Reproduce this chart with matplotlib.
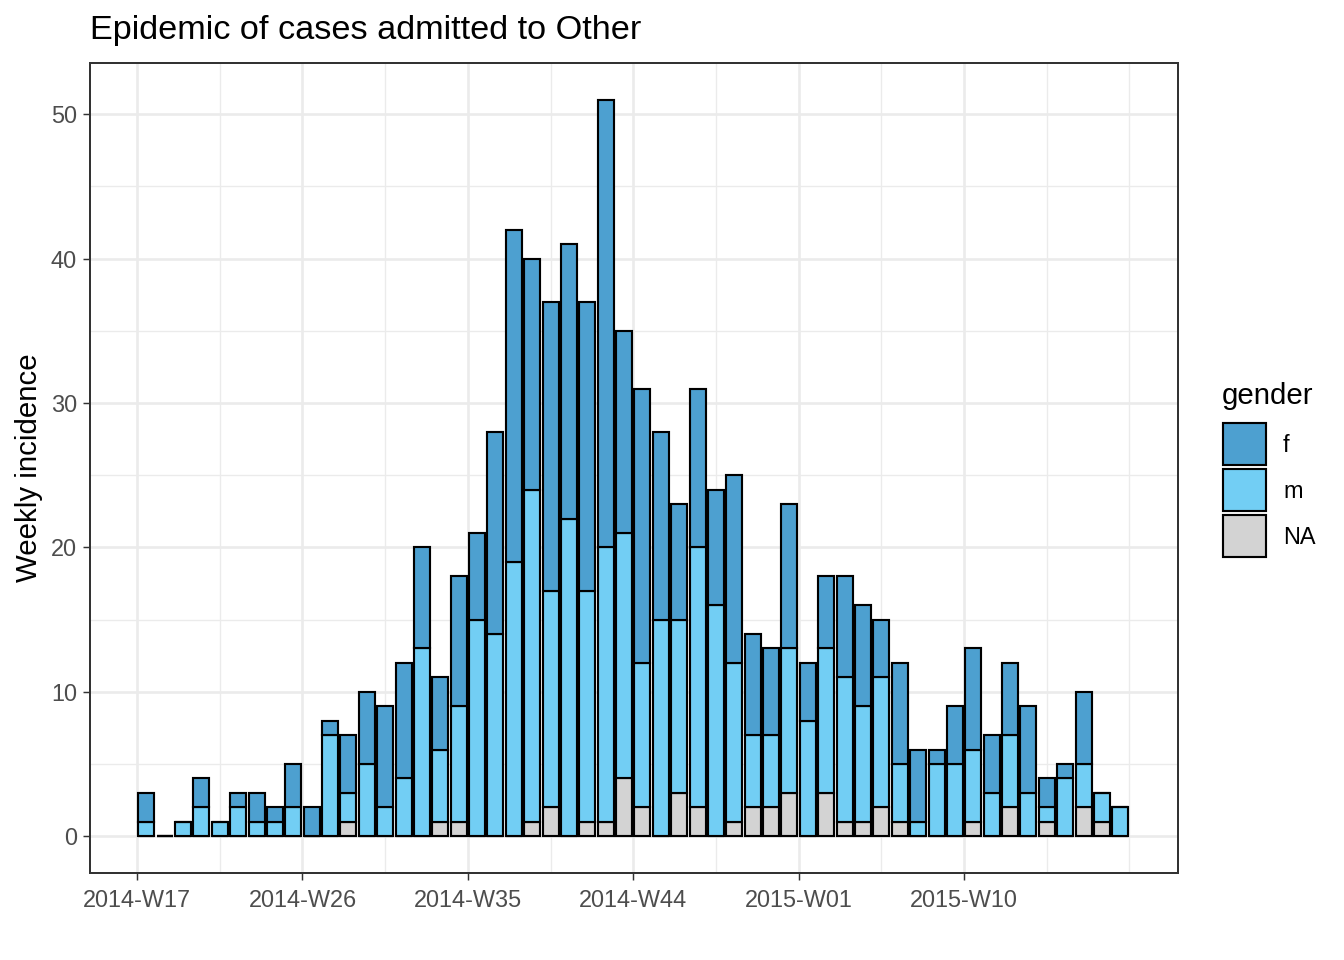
import matplotlib
matplotlib.use("Agg")
import matplotlib.pyplot as plt
from matplotlib.patches import Rectangle
import numpy as np

plt.rcParams['font.family'] = ['Liberation Sans', 'DejaVu Sans']

# weekly counts, 2014-W17 .. 2015-W18
weeks = [f"2014-W{w:02d}" for w in range(17, 53)] + [f"2015-W{w:02d}" for w in range(1, 19)]
na = [0, 0, 0, 0, 0, 0, 0, 0, 0, 0, 0, 1, 0, 0, 0, 0, 1, 1, 0, 0,
      0, 1, 2, 0, 1, 1, 4, 2, 0, 3, 2, 0, 1, 2, 2, 3, 0, 3, 1, 1,
      2, 1, 0, 0, 0, 1, 0, 2, 0, 1, 0, 2, 1, 0]
m = [1, 0, 1, 2, 1, 2, 1, 1, 2, 0, 7, 2, 5, 2, 4, 13, 5, 8, 15, 14,
     19, 23, 15, 22, 16, 19, 17, 10, 15, 12, 18, 16, 11, 5, 5, 10, 8, 10, 10, 8,
     9, 4, 1, 5, 5, 5, 3, 5, 3, 1, 4, 3, 2, 2]
f = [2, 0, 0, 2, 0, 1, 2, 1, 3, 2, 1, 4, 5, 7, 8, 7, 5, 9, 6, 14,
     23, 16, 20, 19, 20, 31, 14, 19, 13, 8, 11, 8, 13, 7, 6, 10, 4, 5, 7, 7,
     4, 7, 5, 1, 4, 7, 4, 5, 6, 2, 1, 5, 0, 0]

tick_labels = ["2014-W17", "2014-W26", "2014-W35", "2014-W44", "2015-W01", "2015-W10"]
groups = ["f", "m", "NA"]
colors = {"f": "#4DA0D0", "m": "#72CEF4", "NA": "#D3D3D3"}

W, H = 1344, 960
fig = plt.figure(figsize=(7, 5), dpi=192)
ax = fig.add_axes([90 / W, 1 - 873 / H, 1088 / W, 810 / H])

x = np.arange(len(weeks)) + 0.5
na_a = np.array(na); m_a = np.array(m); f_a = np.array(f)
bw = 0.87
elw = 0.8
ax.bar(x, na_a, width=bw, color=colors["NA"], edgecolor="black", linewidth=elw, zorder=3)
ax.bar(x, m_a, width=bw, bottom=na_a, color=colors["m"], edgecolor="black", linewidth=elw, zorder=3)
ax.bar(x, f_a, width=bw, bottom=na_a + m_a, color=colors["f"], edgecolor="black", linewidth=elw, zorder=3)

ax.set_xlim(-2.56, 56.64)
ax.set_ylim(-2.55, 53.55)

major_x = [weeks.index(t) for t in tick_labels]
ax.set_xticks(major_x)
ax.set_xticklabels(tick_labels)
minor_x = [4.5, 13.5, 22.5, 31.5, 40.5, 49.5, 54]
ax.set_xticks(minor_x, minor=True)
ax.set_yticks([0, 10, 20, 30, 40, 50])
ax.set_yticks([5, 15, 25, 35, 45], minor=True)

ax.grid(which="major", color="#EBEBEB", linewidth=1.0, zorder=0)
ax.grid(which="minor", color="#EBEBEB", linewidth=0.5, zorder=0)
ax.set_axisbelow(True)

ax.tick_params(which="major", length=2.75, width=0.55, color="#333333",
               labelsize=8.8, labelcolor="#4D4D4D", pad=2.2)
ax.tick_params(axis="x", which="major", pad=3.3)
ax.tick_params(which="minor", length=0)
for s in ax.spines.values():
    s.set_color("#333333")
    s.set_linewidth(0.75)
    s.set_zorder(5)

ax.set_ylabel("Weekly incidence", fontsize=11, color="black", labelpad=3)
fig.text(90 / W, 1 - 31 / H, "Epidemic of cases admitted to Other", fontsize=12.85,
         ha="left", va="center", color="black")

# legend
fig.text(1222 / W, 1 - 396 / H, "gender", fontsize=11, ha="left", va="center")
key_tops = [423, 469, 515]
for g, top in zip(groups, key_tops):
    r = Rectangle((1223 / W, 1 - (top + 42) / H), 43 / W, 42 / H, transform=fig.transFigure,
                  facecolor=colors[g], edgecolor="black", linewidth=0.8)
    fig.add_artist(r)
    fig.text(1283 / W, 1 - (top + 23) / H, g, fontsize=8.8, ha="left", va="center")

fig.savefig("out.png", dpi=192)
